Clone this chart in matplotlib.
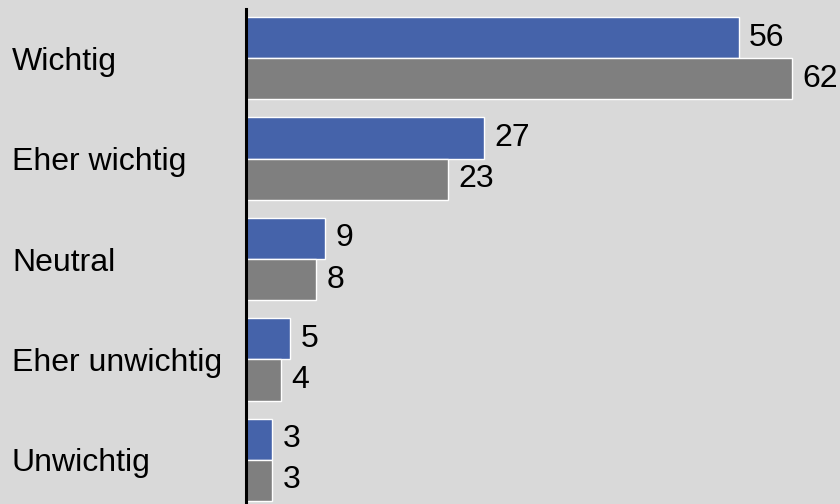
import numpy as np
import matplotlib.pyplot as plt

plt.rcParams['font.family'] = ['Liberation Sans', 'DejaVu Sans']

categories = ["Wichtig", "Eher wichtig", "Neutral", "Eher unwichtig", "Unwichtig"]
series_a = [56, 27, 9, 5, 3]
series_b = [62, 23, 8, 4, 3]

blue = "#4563aa"
grey = "#7f7f7f"
bg = "#d9d9d9"

fig = plt.figure(figsize=(8.4, 5.04), dpi=100, facecolor=bg)
ax = fig.add_axes([246 / 840, 0, 1 - 246 / 840, 1 - 9 / 504], facecolor=bg)

y = np.arange(len(categories))
h = 0.41
bars_a = ax.barh(y - h / 2, series_a, height=h, color=blue, edgecolor="white", linewidth=1)
bars_b = ax.barh(y + h / 2, series_b, height=h, color=grey, edgecolor="white", linewidth=1)

for bars in (bars_a, bars_b):
    ax.bar_label(bars, padding=7.5, fontsize=23, color="black")

ax.set_xlim(0, 594 / 8.8)
ax.set_ylim(4.44, -0.49)
ax.set_yticks(y)
ax.set_yticklabels(categories, fontsize=23, ha="left")
ax.tick_params(axis="y", length=0, pad=168.5)
ax.set_xticks([])

for s in ("top", "right", "bottom"):
    ax.spines[s].set_visible(False)
ax.spines["left"].set_linewidth(2.2)
ax.spines["left"].set_color("black")

fig.savefig("out.png", dpi=100, facecolor=bg)
